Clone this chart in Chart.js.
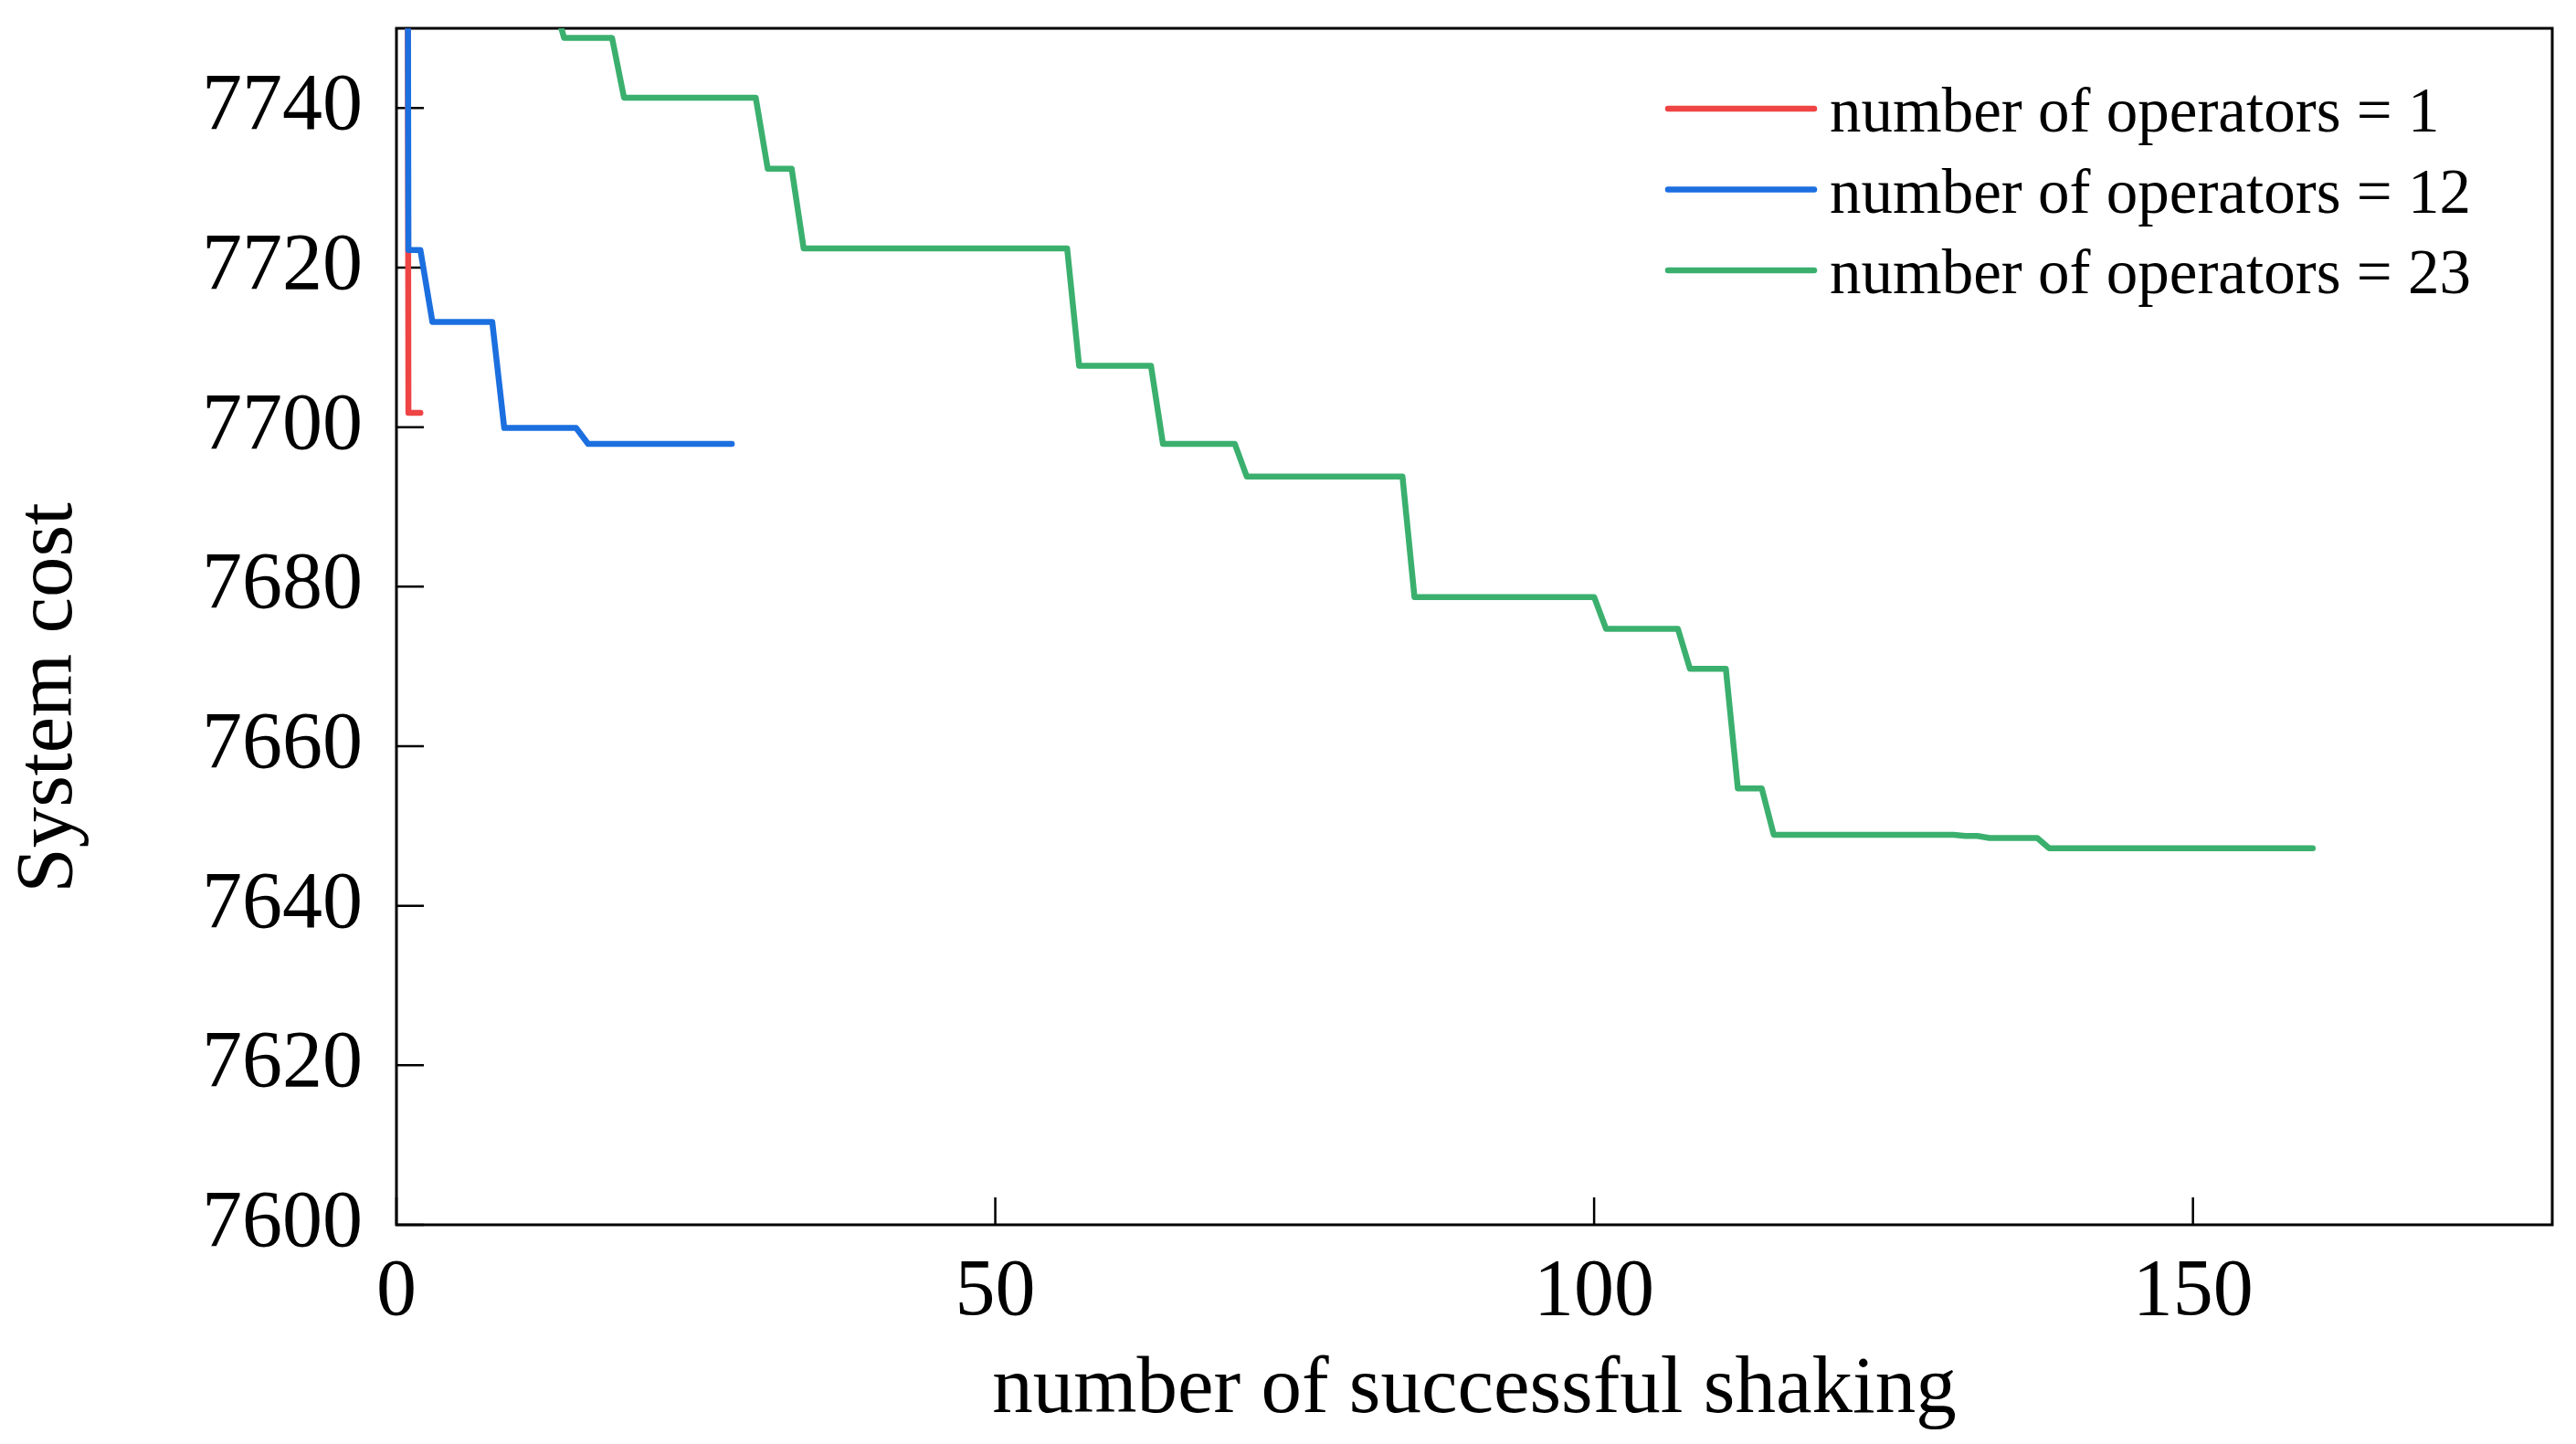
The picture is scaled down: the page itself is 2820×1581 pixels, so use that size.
<!DOCTYPE html>
<html>
<head>
<meta charset="utf-8">
<title>System cost vs number of successful shaking</title>
<script src="https://cdn.jsdelivr.net/npm/chart.js@4.4.1/dist/chart.umd.min.js"></script>
<style>
    html, body { margin: 0; padding: 0; background: #ffffff; overflow: hidden; }
    .chart-box { position: relative; width: 2820px; height: 1581px; }
</style>
</head>
<body>
<div class="chart-box">
    <canvas id="costChart"></canvas>
</div>
<script>
// Series data (x = number of successful shaking, y = system cost)
const op1X = [0, 1, 2];
const op1Y = [8600, 7701.8, 7701.8];

const op12X = [0, 1, 2, 3, 8, 9, 15, 16, 28];
const op12Y = [8500, 7722.2, 7722.2, 7713.2, 7713.2, 7699.9, 7699.9, 7697.9, 7697.9];

const op23X = [0, 13, 14, 18, 19, 30, 31, 33, 34, 56, 57, 63, 64, 70, 71, 84,
               85, 100, 101, 107, 108, 111, 112, 114, 115, 130, 131, 132, 133, 137, 138, 160];
const op23Y = [8300, 7754, 7748.8, 7748.8, 7741.3, 7741.3, 7732.4, 7732.4, 7722.4, 7722.4,
               7707.7, 7707.7, 7697.9, 7697.9, 7693.8, 7693.8, 7678.7, 7678.7, 7674.7, 7674.7,
               7669.7, 7669.7, 7654.7, 7654.7, 7648.9, 7648.9, 7648.75, 7648.75, 7648.5, 7648.5,
               7647.2, 7647.2];

const seriesLabels = ['number of operators = 1', 'number of operators = 12', 'number of operators = 23'];
const seriesColors = ['#ef4444', '#1c6fdf', '#3bb06e'];

// Axis ranges and tick steps
const xMin = 0, xMax = 180, xStep = 50;
const yMin = 7600, yMax = 7750, yStep = 20;

const xTitle = 'number of successful shaking';
const yTitle = 'System cost';

const FONT = '"Liberation Serif", "Times New Roman", serif';
const TICK_LEN = 30;
const LINE_W = 6.5;

function toPoints(xs, ys) {
    return xs.map((x, i) => ({ x: x, y: ys[i] }));
}

// Inward tick marks, box frame, tick labels, axis titles and the inset legend
const axisDecor = {
    id: 'axisDecor',
    beforeDatasetsDraw(chart) {
        const { ctx, chartArea: a, scales } = chart;
        ctx.save();
        ctx.strokeStyle = '#000000';
        ctx.lineWidth = 2.5;
        ctx.beginPath();
        scales.y.ticks.forEach(t => {
            const py = scales.y.getPixelForValue(t.value);
            ctx.moveTo(a.left, py);
            ctx.lineTo(a.left + TICK_LEN, py);
        });
        scales.x.ticks.forEach(t => {
            const px = scales.x.getPixelForValue(t.value);
            ctx.moveTo(px, a.bottom);
            ctx.lineTo(px, a.bottom - TICK_LEN);
        });
        ctx.stroke();
        ctx.lineWidth = 3;
        ctx.strokeRect(a.left, a.top, a.right - a.left, a.bottom - a.top);
        ctx.restore();
    },
    afterDraw(chart) {
        const { ctx, chartArea: a, scales } = chart;
        ctx.save();
        ctx.fillStyle = '#000000';
        ctx.font = '88px ' + FONT;

        // y tick labels
        ctx.textAlign = 'right';
        ctx.textBaseline = 'middle';
        scales.y.ticks.forEach(t => {
            ctx.fillText(String(t.value), a.left - 37, scales.y.getPixelForValue(t.value));
        });

        // x tick labels
        ctx.textAlign = 'center';
        ctx.textBaseline = 'alphabetic';
        scales.x.ticks.forEach(t => {
            ctx.fillText(String(t.value), scales.x.getPixelForValue(t.value), a.bottom + 98);
        });

        // x title
        ctx.font = '89px ' + FONT;
        ctx.fillText(xTitle, (a.left + a.right) / 2, 1546);

        // y title
        ctx.save();
        ctx.translate(78, 764);
        ctx.rotate(-Math.PI / 2);
        ctx.fillText(yTitle, 0, 0);
        ctx.restore();

        // legend
        ctx.font = '69px ' + FONT;
        ctx.textAlign = 'left';
        chart.data.datasets.forEach((ds, i) => {
            const rowY = 119 + i * 88.5;
            ctx.strokeStyle = ds.borderColor;
            ctx.lineWidth = LINE_W;
            ctx.lineCap = 'round';
            ctx.beginPath();
            ctx.moveTo(1826, rowY);
            ctx.lineTo(1986, rowY);
            ctx.stroke();
            ctx.fillText(ds.label, 2003, rowY + 25);
        });
        ctx.restore();
    }
};

document.addEventListener('DOMContentLoaded', function() {
    const ctx = document.getElementById('costChart').getContext('2d');

    const lineStyle = {
        borderWidth: LINE_W,
        pointRadius: 0,
        pointHoverRadius: 0,
        tension: 0,
        fill: false,
        clip: 0,
        borderCapStyle: 'round',
        borderJoinStyle: 'round'
    };

    new Chart(ctx, {
        type: 'line',
        data: {
            datasets: [
                Object.assign({
                    label: seriesLabels[0],
                    data: toPoints(op1X, op1Y),
                    borderColor: seriesColors[0],
                    order: 3
                }, lineStyle),
                Object.assign({
                    label: seriesLabels[1],
                    data: toPoints(op12X, op12Y),
                    borderColor: seriesColors[1],
                    order: 2
                }, lineStyle),
                Object.assign({
                    label: seriesLabels[2],
                    data: toPoints(op23X, op23Y),
                    borderColor: seriesColors[2],
                    order: 1
                }, lineStyle)
            ]
        },
        options: {
            responsive: true,
            maintainAspectRatio: false,
            animation: false,
            layout: {
                padding: { left: 0, top: 31, right: 26, bottom: 0 }
            },
            plugins: {
                legend: { display: false },
                tooltip: { enabled: false }
            },
            scales: {
                x: {
                    type: 'linear',
                    min: xMin,
                    max: xMax,
                    grid: { display: false, drawTicks: false },
                    border: { display: false },
                    ticks: {
                        display: false,
                        stepSize: xStep,
                        includeBounds: false
                    },
                    afterFit: function(scale) {
                        scale.height = 240;
                    }
                },
                y: {
                    type: 'linear',
                    min: yMin,
                    max: yMax,
                    grid: { display: false, drawTicks: false },
                    border: { display: false },
                    ticks: {
                        display: false,
                        stepSize: yStep,
                        includeBounds: false
                    },
                    afterFit: function(scale) {
                        scale.width = 434;
                    }
                }
            }
        },
        plugins: [axisDecor]
    });
});
</script>
</body>
</html>
